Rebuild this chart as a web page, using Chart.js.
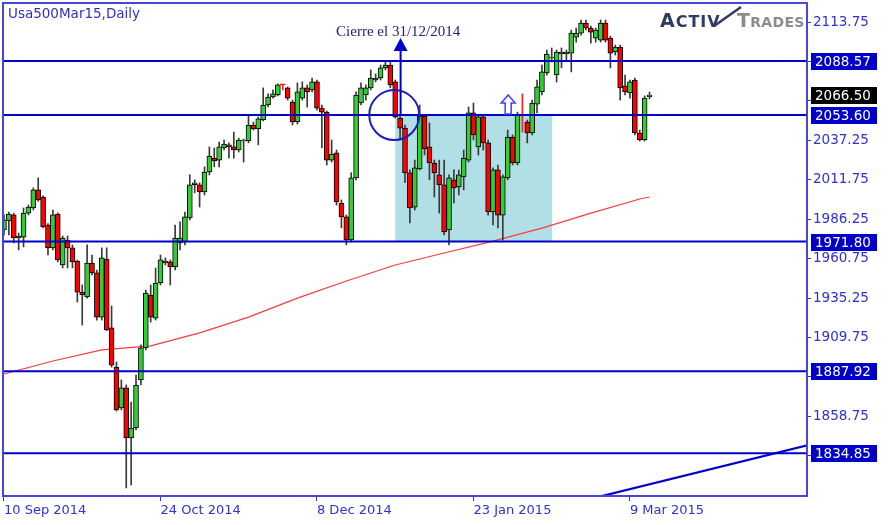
<!DOCTYPE html>
<html><head><meta charset="utf-8">
<script src="https://cdn.jsdelivr.net/npm/chart.js@4/dist/chart.umd.min.js"></script>
<style>html,body{margin:0;padding:0;background:#fff;}canvas{display:block;}</style>
</head><body>
<canvas id="c" width="893" height="525"></canvas>
<script>
// ---- data (daily OHLC, Usa500Mar15) ----
const openP = [
1979.3,1985.1,1989.0,1974.1,1974.7,1990.2,1993.5,2005.2,2000.6,1982.5,
1967.7,1989.6,1956.6,1972.8,1967.7,1959.2,1939.1,1935.9,1957.9,1951.5,
1922.9,1960.5,1915.9,1890.6,1864.2,1877.1,1844.7,1851.2,1882.3,1903.0,
1937.2,1922.3,1945.0,1957.9,1958.6,1955.3,1970.9,1971.5,1987.1,2008.5,
2008.5,2003.9,2016.8,2025.8,2024.5,2032.3,2034.3,2033.0,2031.0,2036.8,
2036.8,2047.2,2044.6,2050.4,2060.1,2065.3,2066.6,2073.1,2071.2,2062.0,
2049.1,2064.6,2071.2,2069.9,2075.1,2058.1,2055.5,2024.5,2029.1,1996.7,
1987.7,1972.8,2013.0,2061.4,2066.6,2071.2,2076.3,2077.6,2084.1,2086.0,
2075.1,2051.7,2045.2,2016.2,1994.1,2018.8,2053.0,2033.0,2022.6,2014.9,
2008.5,1979.3,2011.7,2007.2,2013.6,2024.5,2055.0,2033.0,2052.4,2035.6,
1990.9,2018.1,1988.9,2013.0,2039.4,2022.6,2053.0,2049.1,2042.0,2060.7,
2068.6,2080.8,2090.5,2079.5,2093.1,2093.1,2093.7,2104.0,2106.6,2113.1,
2109.9,2103.4,2102.1,2113.1,2103.4,2094.4,2097.6,2072.5,2067.9,2076.3,
2042.0,2037.5,2065.5];
const highP = [
1989.0,1990.9,1990.2,1977.3,1993.5,1995.4,2006.5,2013.0,2001.3,1983.4,
1992.2,1990.3,1975.4,1975.4,1969.6,1959.8,1943.7,1969.6,1963.1,1953.4,
1967.7,1967.7,1930.1,1893.9,1882.3,1879.0,1868.0,1885.4,1905.0,1940.4,
1943.7,1954.7,1963.1,1961.2,1959.9,1982.5,1984.5,1990.9,2015.0,2011.7,
2009.8,2020.1,2033.0,2032.3,2036.2,2037.5,2035.6,2042.6,2038.7,2038.1,
2053.0,2049.1,2052.4,2071.2,2067.3,2069.9,2073.8,2073.3,2071.8,2063.3,
2074.4,2075.1,2073.1,2077.6,2076.3,2060.1,2056.2,2037.5,2031.0,1998.7,
1989.0,2016.3,2068.6,2074.4,2073.1,2082.8,2080.2,2086.0,2088.0,2088.0,
2076.3,2053.7,2047.2,2018.1,2024.5,2060.1,2053.7,2048.5,2024.5,2024.5,
2024.5,2014.9,2018.1,2018.1,2031.0,2058.8,2061.4,2053.7,2053.7,2037.5,
2019.4,2021.3,2014.9,2043.9,2040.7,2055.5,2067.3,2050.4,2063.3,2076.3,
2086.0,2095.7,2097.0,2095.7,2097.0,2095.7,2108.6,2109.9,2115.1,2115.1,
2111.2,2109.9,2115.1,2115.1,2104.7,2098.9,2098.9,2079.5,2076.3,2077.6,
2043.9,2066.0,2068.5];
const lowP = [
1976.0,1976.0,1970.9,1966.4,1968.3,1989.0,1992.2,1997.8,1980.6,1963.1,
1966.4,1958.6,1954.7,1954.7,1954.7,1932.7,1917.8,1935.1,1950.2,1921.0,
1921.0,1914.1,1890.6,1862.1,1862.9,1812.4,1814.4,1849.9,1879.0,1901.7,
1919.7,1921.0,1943.7,1956.6,1943.7,1953.4,1966.4,1969.6,1985.8,2003.3,
1994.1,2001.9,2014.9,2020.1,2020.1,2031.0,2025.8,2025.8,2029.7,2023.2,
2035.6,2043.9,2034.3,2049.8,2058.8,2064.6,2066.0,2069.9,2063.3,2047.2,
2047.8,2063.3,2058.8,2068.6,2056.8,2032.3,2021.3,2023.2,1995.4,1980.6,
1969.6,1971.5,2011.7,2060.1,2063.3,2069.9,2075.1,2076.3,2082.8,2071.2,
2051.7,2037.5,2009.8,1983.8,1992.2,2018.1,2027.8,2011.7,2000.6,1990.2,
1976.0,1969.6,1996.7,2001.9,2005.2,2023.2,2037.5,2027.8,2031.0,1988.9,
1982.5,1980.6,1972.8,2011.7,2021.3,2021.3,2042.6,2035.6,2040.7,2055.0,
2066.6,2079.5,2087.9,2075.0,2084.1,2089.2,2081.5,2100.8,2105.3,2108.6,
2100.1,2100.8,2100.8,2100.8,2084.1,2092.4,2063.3,2066.6,2064.6,2040.7,
2036.8,2036.8,2064.0];
const closeP = [
1985.8,1989.6,1974.1,1975.4,1990.2,1994.1,2005.2,1998.7,1981.2,1967.7,
1989.0,1959.9,1974.1,1967.7,1958.6,1939.1,1937.2,1957.9,1951.5,1922.9,
1961.2,1914.6,1891.9,1862.9,1877.1,1844.7,1851.2,1879.0,1903.0,1938.5,
1922.9,1945.0,1959.9,1959.2,1955.3,1974.1,1974.1,1987.7,2008.5,2009.8,
2003.9,2016.8,2027.1,2023.9,2033.0,2034.9,2033.0,2031.0,2037.5,2037.5,
2047.2,2044.6,2051.1,2060.1,2065.3,2067.3,2073.1,2073.1,2064.6,2049.1,
2068.6,2071.2,2068.6,2075.1,2058.1,2055.5,2024.5,2028.4,1997.4,1987.7,
1972.8,2013.0,2066.6,2071.2,2071.2,2077.6,2077.6,2084.1,2086.0,2073.1,
2052.4,2045.2,2016.2,1993.5,2019.4,2053.0,2031.7,2022.6,2016.2,2008.5,
1978.0,2013.0,2006.5,2014.9,2025.8,2055.0,2040.7,2052.4,2035.6,1990.9,
2018.1,1988.9,2013.6,2039.4,2022.6,2054.3,2053.0,2042.0,2061.4,2071.8,
2081.5,2093.1,2091.1,2094.4,2094.4,2094.4,2106.6,2106.6,2113.1,2109.9,
2107.3,2108.6,2113.1,2102.1,2093.7,2097.6,2071.2,2068.6,2075.1,2042.0,
2037.5,2064.6,2066.5];

// moving average (red) read at these bar indices
const maIdx = [-1, 0, 10, 20, 30, 40, 50, 60, 70, 80, 90, 100, 110, 120, 130, 132];
const maVal = [1885.3,1886.1,1894.5,1901.7,1904.3,1912.7,1922.9,1935.2,1946.3,1956.6,1964.4,1972.1,1980.5,1990.2,1999.3,2000.6];

// horizontal levels and last price
const levels = [2088.57, 2053.60, 1971.80, 1887.92, 1834.85];
const lastPrice = 2066.50;

// trend line (two anchor points: bar index, price)
const trendIdx = [120, 166];
const trendVal = [1805.4, 1841.3];

// shaded zone, circle, arrows, note
const zoneIdx = [80, 112.1];
const zoneVal = [1971.80, 2053.60];
const circleIdx = [79.8];
const circleVal = [2053.6];
const arrowIdx = [81.1];
const arrowVal = [2053.6, 2103.4];
const noteIdx = [80.6];
const noteVal = [2107.3];
const noteText = 'Cierre el 31/12/2014';
const hollowIdx = [103.1];
const hollowVal = [2053.6, 2066.6];

// axis ticks
const yTickVals = [1833.25,1858.75,1884.25,1909.75,1935.25,1960.75,1986.25,2011.75,2037.25,2062.75,2088.25,2113.75];
const xTickIdx = [0, 32, 64, 96, 128];
const xTickLabels = ['10 Sep 2014','24 Oct 2014','8 Dec 2014','23 Jan 2015','9 Mar 2015'];
const titleText = 'Usa500Mar15,Daily';

// ---- chart ----
const BLUE = '#0000c8';
const AXIS = '#3030d4';
const FONT = '"DejaVu Sans", Verdana, sans-serif';
Chart.defaults.font.family = FONT;

const isDoji = i => openP[i] === closeP[i];
const wickData = openP.map((_, i) => ({x: i, y: [lowP[i], highP[i]]}));
const bodyData = openP.map((o, i) => ({x: i, y: [o, closeP[i]]}));

const datasets = [];
levels.forEach(l => datasets.push({
  type: 'line', data: [{x: -5, y: l}, {x: 170, y: l}], borderColor: BLUE, borderWidth: 2,
  pointRadius: 0, fill: false, order: 1
}));
datasets.push({
  type: 'line', data: trendIdx.map((v, i) => ({x: v, y: trendVal[i]})), borderColor: BLUE, borderWidth: 2.2,
  pointRadius: 0, fill: false, order: 1
});
datasets.push({
  type: 'line', data: maIdx.map((v, i) => ({x: v, y: maVal[i]})), borderColor: '#ff3b3b', borderWidth: 1.2,
  pointRadius: 0, fill: false, order: 5
});
datasets.push({
  type: 'bar', data: wickData, grouped: false, barThickness: 1, borderWidth: 0,
  backgroundColor: openP.map((_, i) => isDoji(i) ? '#ff2020' : '#3a3a3a'), order: 4
});
datasets.push({
  type: 'bar', data: bodyData, grouped: false, barThickness: 5, borderWidth: 1, borderSkipped: false,
  minBarLength: 1,
  backgroundColor: openP.map((o, i) => closeP[i] > o ? '#33cc33' : '#ff0000'),
  borderColor: openP.map((_, i) => isDoji(i) ? '#ff0000' : '#000000'), order: 3
});

const annot = {
  id: 'annot',
  beforeDatasetsDraw(chart) {
    const {ctx, scales: {x, y}} = chart;
    ctx.save();
    const x0 = x.getPixelForValue(zoneIdx[0]), x1 = x.getPixelForValue(zoneIdx[1]);
    const y0 = y.getPixelForValue(zoneVal[1]), y1 = y.getPixelForValue(zoneVal[0]);
    ctx.fillStyle = '#b0dfe6';
    ctx.fillRect(x0, y0, x1 - x0, y1 - y0);
    ctx.restore();
  },
  afterDatasetsDraw(chart) {
    const {ctx, chartArea: a, scales: {x, y}} = chart;
    ctx.save();
    ctx.beginPath(); ctx.rect(a.left, a.top, a.right - a.left, a.bottom - a.top); ctx.clip();
    // circle
    ctx.strokeStyle = '#1c1cc8'; ctx.lineWidth = 2;
    ctx.beginPath();
    ctx.arc(x.getPixelForValue(circleIdx[0]), y.getPixelForValue(circleVal[0]), 25, 0, Math.PI * 2);
    ctx.stroke();
    // arrow up
    const ax = x.getPixelForValue(arrowIdx[0]);
    const ab = y.getPixelForValue(arrowVal[0]), at = y.getPixelForValue(arrowVal[1]);
    ctx.strokeStyle = '#0000cc'; ctx.fillStyle = '#0000cc'; ctx.lineWidth = 2;
    ctx.beginPath(); ctx.moveTo(ax, ab); ctx.lineTo(ax, at + 12); ctx.stroke();
    ctx.beginPath(); ctx.moveTo(ax, at); ctx.lineTo(ax + 7, at + 13); ctx.lineTo(ax - 7, at + 13); ctx.closePath(); ctx.fill();
    // note text
    ctx.font = '15px "Liberation Serif", "Times New Roman", serif';
    ctx.fillStyle = '#22227a'; ctx.textAlign = 'center'; ctx.textBaseline = 'middle';
    ctx.fillText(noteText, x.getPixelForValue(noteIdx[0]), y.getPixelForValue(noteVal[0]));
    // hollow arrow
    const hx = x.getPixelForValue(hollowIdx[0]);
    const ht = y.getPixelForValue(hollowVal[1]), hb = y.getPixelForValue(hollowVal[0]) - 1;
    ctx.beginPath();
    ctx.moveTo(hx, ht); ctx.lineTo(hx + 7, ht + 8); ctx.lineTo(hx + 3, ht + 8); ctx.lineTo(hx + 3, hb);
    ctx.lineTo(hx - 3, hb); ctx.lineTo(hx - 3, ht + 8); ctx.lineTo(hx - 7, ht + 8); ctx.closePath();
    ctx.fillStyle = '#ffffff'; ctx.fill();
    ctx.strokeStyle = '#4040ff'; ctx.lineWidth = 1.5; ctx.stroke();
    ctx.restore();
  },
  afterDraw(chart) {
    const {ctx, chartArea: a, scales: {y}} = chart;
    ctx.save();
    // frame
    ctx.strokeStyle = '#4646dc'; ctx.lineWidth = 2;
    ctx.strokeRect(a.left, a.top, a.right - a.left, a.bottom - a.top);
    // level boxes
    ctx.font = '13.5px ' + FONT; ctx.textBaseline = 'middle'; ctx.textAlign = 'left';
    const box = (v, bg) => {
      const py = Math.round(y.getPixelForValue(v));
      ctx.fillStyle = bg; ctx.fillRect(a.right + 4, py - 8, 66, 17);
      ctx.fillStyle = '#ffffff'; ctx.fillText(v.toFixed(2), a.right + 8, py + 1);
    };
    levels.forEach(l => box(l, BLUE));
    box(lastPrice, '#000000');
    // title
    ctx.font = '13.5px ' + FONT; ctx.fillStyle = '#3030c8';
    ctx.fillText(titleText, 8, 14);
    // logo
    ctx.textBaseline = 'alphabetic';
    let lx = 660, vStart = 0, vW = 0;
    ctx.fillStyle = '#2f3b63';
    [['A', 19], ['C', 16], ['T', 16], ['I', 16], ['V', 16]].forEach(([ch, sz]) => {
      ctx.font = 'bold ' + sz + 'px ' + FONT;
      const w = ctx.measureText(ch).width;
      if (ch === 'V') { vStart = lx; vW = w; }
      ctx.fillText(ch, lx, 27); lx += w + 1;
    });
    ctx.strokeStyle = '#2f3b63'; ctx.lineWidth = 2.5;
    ctx.beginPath(); ctx.moveTo(vStart + vW * 0.55, 26); ctx.lineTo(741, 7); ctx.stroke();
    lx = 737;
    ctx.fillStyle = '#8c8c8c';
    [['T', 19], ['R', 14], ['A', 14], ['D', 14], ['E', 14], ['S', 14]].forEach(([ch, sz]) => {
      ctx.font = 'bold ' + sz + 'px ' + FONT; ctx.fillText(ch, lx, 27); lx += ctx.measureText(ch).width + 0.3;
    });
    ctx.restore();
  }
};

new Chart(document.getElementById('c'), {
  type: 'bar',
  data: {datasets},
  options: {
    responsive: false, animation: false, devicePixelRatio: 1,
    layout: {padding: {left: 3, top: 3, right: 0, bottom: 0}},
    plugins: {legend: {display: false}, tooltip: {enabled: false}},
    scales: {
      x: {
        type: 'linear', min: -0.2, max: 164.2, offset: false,
        grid: {display: true, drawOnChartArea: false, drawTicks: true, tickLength: 5, color: AXIS, offset: false},
        border: {display: false},
        afterBuildTicks: s => { s.ticks = xTickIdx.map(v => ({value: v})); },
        afterFit: s => { s.height = 29; s.paddingLeft = 0; s.paddingRight = 0; },
        ticks: {
          autoSkip: false, maxRotation: 0, align: 'start', padding: 2, color: AXIS,
          font: {size: 13}, callback: v => xTickLabels[xTickIdx.indexOf(v)]
        }
      },
      y: {
        position: 'right', min: 1807.2, max: 2126.09,
        grid: {display: true, drawOnChartArea: false, drawTicks: true, tickLength: 4, color: AXIS},
        border: {display: false},
        afterBuildTicks: s => { s.ticks = yTickVals.map(v => ({value: v})); },
        afterFit: s => { s.width = 86; s.paddingTop = 0; s.paddingBottom = 0; },
        ticks: {padding: 2, color: AXIS, font: {size: 13.5}, callback: v => v.toFixed(2)}
      }
    }
  },
  plugins: [annot]
});
</script>
</body></html>
